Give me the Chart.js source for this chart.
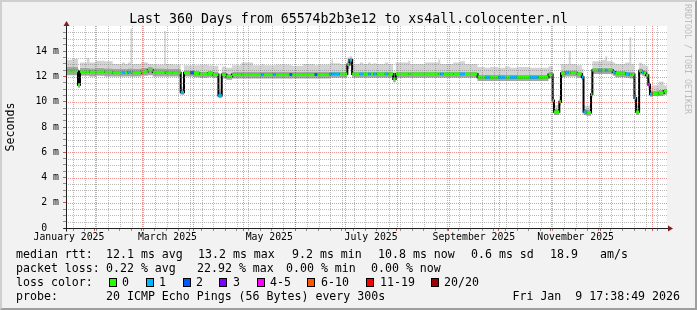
<!DOCTYPE html>
<html>
<head>
<meta charset="utf-8">
<script src="https://cdn.jsdelivr.net/npm/chart.js@4.4.1/dist/chart.umd.min.js"></script>
<style>
  html, body { margin: 0; padding: 0; background: #f2f2f2; }
  #wrap { position: relative; width: 697px; height: 310px; overflow: hidden;
          font-family: "DejaVu Sans Mono", monospace; color: #000; }
  #wrap canvas { position: absolute; left: 0; top: 0; }
  .frame { position: absolute; left: 0; top: 0; width: 697px; height: 310px; box-sizing: border-box;
           border-top: 2px solid #cfcfcf; border-left: 2px solid #cfcfcf;
           border-right: 2px solid #9e9e9e; border-bottom: 2px solid #9e9e9e; pointer-events: none; }
  .title { position: absolute; left: 0; top: 11px; width: 697px; text-align: center;
           font-size: 13.25px; line-height: 16px; white-space: pre; }
  .t { position: absolute; white-space: pre; font-size: 11.6px; line-height: 14px; }
  .box { position: absolute; width: 8px; height: 9px; box-sizing: border-box; border: 1px solid #000; }
  .mark { position: absolute; left: 683px; top: 4px; writing-mode: vertical-rl; font-size: 8.3px;
          line-height: 10px; color: #bdbdbd; white-space: pre; }
</style>
</head>
<body>
<div id="wrap">
  <canvas id="chart" width="697" height="310"></canvas>
  <div class="title">Last 360 Days from 65574b2b3e12 to xs4all.colocenter.nl</div>
  <div class="mark">RRDTOOL / TOBI OETIKER</div>
  <div id="legend"></div>
  <div class="frame"></div>
</div>
<script>
// breakpoints: day since start of graph (Jan 14 2025 17:38), value holds until next day
const days = [0, 3.5, 7.2, 8.4, 12.5, 14, 18, 23, 28, 33.5,
  35.3, 37, 38.6, 39.6, 45, 49, 52, 58.8, 59.8, 64,
  68.7, 70.7, 74.5, 76.5, 80, 85, 88, 91.3, 93.3, 96,
  99.5, 105, 112, 117, 118.5, 124.3, 125.5, 134, 135.5, 142,
  149, 150.5, 158, 159, 160, 164, 168.5, 169.8, 171.4, 176,
  178, 181, 182.5, 184, 186, 191, 193, 196, 197.5, 205,
  206.2, 215, 223, 224.2, 226, 232, 236, 239, 246.5, 251,
  254, 259, 263, 266, 270, 278, 283, 289, 291.5, 292.3,
  295.5, 296.5, 299, 301.2, 302.3, 306, 309, 310, 311.7, 314.5,
  315.3, 319, 321, 323, 324.2, 327.5, 329, 335, 337.5, 338.6,
  340.5, 341.5, 343.3, 345, 346, 347.5, 348.8, 349.8, 351.3, 355,
  358];
const endDay = 360;

// median rtt in ms
const median = [12.45, 12.45, 11.35, 12.4, 12.4, 12.35, 12.4, 12.35, 12.3, 12.3,
  12.3, 12.35, 12.35, 12.3, 12.4, 12.5, 12.35, 12.35, 12.3, 12.3,
  10.75, 12.3, 12.3, 12.25, 12.2, 12.25, 12.15, 10.5, 12.15, 12.0,
  12.15, 12.15, 12.15, 12.15, 12.15, 12.15, 12.15, 12.15, 12.15, 12.15,
  12.15, 12.15, 12.2, 12.2, 12.2, 12.2, 12.95, 13.3, 12.2, 12.2,
  12.2, 12.2, 12.2, 12.2, 12.2, 12.2, 12.2, 11.8, 12.2, 12.2,
  12.2, 12.2, 12.2, 12.2, 12.2, 12.2, 12.2, 12.2, 11.95, 11.95,
  11.95, 11.95, 11.95, 11.95, 11.95, 11.95, 11.95, 12.15, 10.1, 9.2,
  10.0, 12.25, 12.3, 12.3, 12.3, 12.2, 11.95, 9.2, 9.15, 10.6,
  12.5, 12.5, 12.5, 12.5, 12.5, 12.35, 12.25, 12.2, 12.15, 12.15,
  10.3, 9.2, 12.45, 12.35, 12.3, 12.1, 11.35, 10.6, 10.65, 10.7,
  10.85];

// lost pings out of 20 -> index into lossColors
const loss = [0, 0, 0, 0, 0, 0, 0, 0, 0, 1,
  0, 1, 0, 0, 0, 0, 0, 0, 0, 0,
  1, 0, 2, 0, 0, 0, 0, 1, 0, 0,
  0, 0, 0, 1, 0, 1, 0, 2, 0, 0,
  2, 0, 1, 1, 1, 0, 0, 1, 0, 1,
  0, 1, 0, 1, 0, 1, 0, 0, 0, 0,
  0, 0, 0, 1, 0, 0, 1, 0, 0, 1,
  0, 1, 0, 1, 0, 1, 0, 0, 0, 0,
  0, 0, 1, 0, 0, 0, 1, 1, 0, 0,
  0, 1, 0, 1, 0, 1, 0, 1, 0, 0,
  1, 0, 0, 1, 0, 0, 4, 1, 0, 0,
  0];

// smoke: bottom, top of dense band, top of light band
const smokeLo = [12.1, 12.1, 11.1, 12.05, 12.05, 12.0, 12.05, 12.0, 12.0, 12.0,
  12.0, 12.0, 12.0, 12.0, 12.05, 12.1, 12.0, 12.0, 12.0, 12.0,
  10.55, 12.0, 12.0, 11.95, 11.9, 11.95, 11.9, 10.3, 11.85, 11.75,
  11.85, 11.85, 11.85, 11.85, 11.85, 11.85, 11.85, 11.85, 11.85, 11.85,
  11.85, 11.85, 11.9, 11.9, 11.9, 11.9, 12.6, 12.9, 11.9, 11.9,
  11.9, 11.9, 11.9, 11.9, 11.9, 11.9, 11.9, 11.55, 11.9, 11.9,
  11.9, 11.9, 11.9, 11.9, 11.9, 11.9, 11.9, 11.9, 11.65, 11.65,
  11.65, 11.65, 11.65, 11.65, 11.65, 11.65, 11.65, 11.85, 9.8, 8.95,
  9.7, 11.95, 12.0, 12.0, 12.0, 11.9, 11.7, 8.95, 8.9, 10.3,
  12.2, 12.2, 12.2, 12.2, 12.2, 12.05, 11.95, 11.9, 11.85, 11.85,
  10.0, 8.95, 12.15, 12.05, 12.0, 11.8, 11.05, 10.4, 10.45, 10.45,
  10.55];
const smokeMid = [12.75, 12.75, 11.6, 12.7, 12.7, 12.65, 12.7, 12.65, 12.6, 12.6,
  12.6, 12.65, 12.65, 12.6, 12.7, 12.8, 12.65, 12.65, 12.6, 12.6,
  11.0, 12.5, 12.5, 12.45, 12.4, 12.45, 12.35, 10.75, 12.35, 12.2,
  12.35, 12.35, 12.35, 12.35, 12.35, 12.35, 12.35, 12.35, 12.35, 12.35,
  12.35, 12.35, 12.4, 12.4, 12.4, 12.4, 13.2, 13.5, 12.4, 12.4,
  12.4, 12.4, 12.4, 12.4, 12.4, 12.4, 12.4, 12.0, 12.4, 12.4,
  12.4, 12.4, 12.4, 12.4, 12.4, 12.4, 12.4, 12.4, 12.15, 12.15,
  12.15, 12.15, 12.15, 12.15, 12.15, 12.15, 12.15, 12.35, 10.35, 9.45,
  10.25, 12.45, 12.5, 12.5, 12.5, 12.4, 12.15, 9.45, 9.4, 10.85,
  12.7, 12.7, 12.7, 12.7, 12.7, 12.55, 12.45, 12.4, 12.35, 12.35,
  10.55, 9.45, 12.65, 12.55, 12.5, 12.3, 11.6, 10.85, 10.9, 10.95,
  11.05];
const smokeHi = [13.3, 13.4, 11.8, 13.1, 13.45, 13.1, 13.25, 13.2, 13.0, 13.1,
  13.0, 13.1, 15.8, 13.0, 13.1, 13.0, 12.95, 15.6, 13.0, 12.95,
  11.2, 12.9, 12.9, 12.9, 12.95, 12.9, 12.85, 11.0, 12.8, 12.7,
  12.9, 13.1, 12.9, 13.0, 12.9, 12.9, 12.95, 12.9, 12.85, 13.0,
  12.9, 12.95, 13.05, 13.35, 13.05, 13.0, 13.5, 13.6, 13.0, 13.1,
  13.0, 13.1, 13.0, 13.05, 13.0, 13.1, 13.0, 12.4, 13.1, 13.25,
  13.0, 13.1, 13.35, 13.0, 13.0, 13.1, 13.2, 13.0, 12.75, 12.7,
  12.75, 12.7, 12.8, 12.7, 12.75, 12.7, 12.7, 12.8, 10.6, 9.75,
  10.5, 13.0, 13.0, 14.0, 13.0, 12.9, 12.6, 9.7, 9.7, 11.1,
  13.2, 13.2, 13.3, 13.6, 13.2, 13.1, 13.0, 13.1, 15.1, 13.0,
  10.8, 9.7, 13.1, 13.0, 12.9, 12.8, 11.75, 11.2, 11.3, 11.6,
  11.3];

const lossColors = ['#26ff00', '#00b8ff', '#0059ff', '#7e00ff', '#ff00ff', '#ff5500', '#ff0000', '#a10000'];
const lossLabels = ['0', '1', '2', '3', '4-5', '6-10', '11-19', '20/20'];

// x axis: label months (mid-month labels) and y tick labels
const monthLabels = ['January 2025', 'March 2025', 'May 2025', 'July 2025', 'September 2025', 'November 2025'];
const labelMonths = [0, 2, 4, 6, 8, 10];
const yTickValues = [0, 2, 4, 6, 8, 10, 12, 14];
const yTickLabels = ['0  ', '2 m', '4 m', '6 m', '8 m', '10 m', '12 m', '14 m'];

const startMs = Date.UTC(2025, 0, 14, 17, 38, 49);
const toDay = (y, m, d) => (Date.UTC(y, m, d) - startMs) / 86400000;

const FONT = '"DejaVu Sans Mono", monospace';
const MINOR = 'rgba(130,130,130,0.55)';
const MAJOR = 'rgba(220,60,60,0.55)';

// legend text below the graph
const legendRows = [
  [247, [['median rtt:', 16], ['12.1 ms avg', 106], ['13.2 ms max', 198], ['9.2 ms min', 292],
         ['10.8 ms now', 378], ['0.6 ms sd', 471], ['18.9', 550], ['am/s', 600]]],
  [261, [['packet loss:', 16], ['0.22 % avg', 106], ['22.92 % max', 197], ['0.00 % min', 286], ['0.00 % now', 371]]],
  [275, [['loss color:', 16]]],
  [289, [['probe:', 16], ['20 ICMP Echo Pings (56 Bytes) every 300s', 106]]]
];
const boxX = [109, 146, 183, 219, 257, 307, 366, 431];
const boxLabelX = [122, 159, 196, 233, 270, 321, 380, 444];

const legend = document.getElementById('legend');
legendRows.forEach(([top, items]) => {
  items.forEach(([txt, left]) => {
    const s = document.createElement('div');
    s.className = 't';
    s.style.top = top + 'px';
    s.style.left = left + 'px';
    s.textContent = txt;
    legend.appendChild(s);
  });
});
lossLabels.forEach((lab, i) => {
  const b = document.createElement('div');
  b.className = 'box';
  b.style.left = boxX[i] + 'px';
  b.style.top = '278px';
  b.style.background = lossColors[i];
  legend.appendChild(b);
  const s = document.createElement('div');
  s.className = 't';
  s.style.top = '275px';
  s.style.left = boxLabelX[i] + 'px';
  s.textContent = lab;
  legend.appendChild(s);
});
const stamp = document.createElement('div');
stamp.className = 't';
stamp.style.top = '289px';
stamp.style.right = '17px';
stamp.textContent = 'Fri Jan  9 17:38:49 2026';
legend.appendChild(stamp);

// datasets built from the arrays
const steps = arr => days.map((d, i) => ({x: d, y: arr[i]})).concat([{x: endDay, y: arr[arr.length - 1]}]);

const lossBars = [];
days.forEach((d, i) => {
  const next = i + 1 < days.length ? days[i + 1] : endDay;
  lossBars.push({x: d, y: median[i], l: loss[i]}, {x: next, y: median[i], l: loss[i]}, {x: next, y: null});
});

const xTicks = [];
for (let d = toDay(2025, 0, 19); d <= endDay; d += 7) xTicks.push({value: d, kind: 'minor'});
for (let m = 1; m <= 12; m++) xTicks.push({value: toDay(2025, m, 1), kind: 'major'});
labelMonths.forEach((m, i) => {
  xTicks.push({value: (toDay(2025, m, 1) + toDay(2025, m + 1, 1)) / 2, kind: 'label', text: monthLabels[i]});
});
xTicks.sort((a, b) => a.value - b.value);

const yTicks = [];
for (let v = 0; v <= 16; v += 0.5) {
  const i = yTickValues.indexOf(v);
  yTicks.push({value: v, kind: v === 16 ? 'none' : (v % 2 === 0 ? 'major' : 'minor'), text: i >= 0 ? yTickLabels[i] : ''});
}

const tickColor = ctx => {
  const k = ctx.tick && ctx.tick.kind;
  return k === 'major' ? '#de4f4f' : (k === 'minor' ? '#8f8f8f' : 'rgba(0,0,0,0)');
};

// white canvas, dotted grid over the data (as rrdtool does), axis arrows
const frame = {
  id: 'frame',
  beforeDraw(chart) {
    const {ctx, chartArea: a} = chart;
    ctx.save();
    ctx.fillStyle = '#ffffff';
    ctx.fillRect(a.left, a.top, a.right - a.left, a.bottom - a.top);
    ctx.restore();
  },
  afterDatasetsDraw(chart) {
    const {ctx, chartArea: a, scales} = chart;
    ctx.save();
    ctx.lineWidth = 1;
    ctx.setLineDash([1, 1]);
    ['minor', 'major'].forEach(kind => {
      ctx.strokeStyle = kind === 'major' ? MAJOR : MINOR;
      scales.x.ticks.forEach(t => {
        if (t.kind !== kind) return;
        const px = Math.round(scales.x.getPixelForValue(t.value)) + 0.5;
        ctx.beginPath(); ctx.moveTo(px, a.top); ctx.lineTo(px, a.bottom); ctx.stroke();
      });
      scales.y.ticks.forEach(t => {
        if (t.kind !== kind || t.value === 0) return;
        const py = Math.round(scales.y.getPixelForValue(t.value)) + 0.5;
        ctx.beginPath(); ctx.moveTo(a.left, py); ctx.lineTo(a.right, py); ctx.stroke();
      });
    });
    ctx.restore();
  },
  afterDraw(chart) {
    const {ctx, chartArea: a} = chart;
    const l = Math.round(a.left) + 0.5, b = Math.round(a.bottom) + 0.5;
    ctx.save();
    ctx.strokeStyle = '#1f1f1f';
    ctx.lineWidth = 1;
    ctx.beginPath();
    ctx.moveTo(l - 3, b); ctx.lineTo(a.right + 2, b);
    ctx.moveTo(l, b + 3); ctx.lineTo(l, a.top - 1);
    ctx.stroke();
    ctx.fillStyle = '#801f1f';
    ctx.beginPath();
    ctx.moveTo(l, a.top - 5); ctx.lineTo(l - 3, a.top); ctx.lineTo(l + 3, a.top); ctx.closePath();
    ctx.fill();
    ctx.beginPath();
    ctx.moveTo(a.right + 6, b); ctx.lineTo(a.right + 1, b - 3); ctx.lineTo(a.right + 1, b + 3); ctx.closePath();
    ctx.fill();
    ctx.restore();
  }
};

const flat = {pointRadius: 0, pointHoverRadius: 0, stepped: 'before', borderWidth: 0, borderColor: 'rgba(0,0,0,0)'};

new Chart(document.getElementById('chart'), {
  type: 'line',
  data: {
    datasets: [
      Object.assign({label: 'smoke low', data: steps(smokeLo), fill: false, order: 5}, flat),
      Object.assign({label: 'smoke dense', data: steps(smokeMid), fill: '-1', backgroundColor: '#a6a6a6', order: 4}, flat),
      Object.assign({label: 'smoke light', data: steps(smokeHi), fill: '-1', backgroundColor: '#d3d3d3', order: 3}, flat),
      {
        label: 'median', data: steps(median), stepped: 'before', borderColor: '#000000', borderWidth: 2,
        pointRadius: 0, fill: false, order: 2
      },
      {
        label: 'loss', data: lossBars, borderWidth: 3, borderCapStyle: 'butt', pointRadius: 0, fill: false,
        spanGaps: false, order: 1, borderColor: lossColors[0],
        segment: {borderColor: ctx => lossColors[lossBars[ctx.p0DataIndex].l]}
      }
    ]
  },
  options: {
    responsive: false,
    animation: false,
    devicePixelRatio: 1,
    events: [],
    layout: {padding: {left: 0, top: 26, right: 30, bottom: 62}},
    plugins: {legend: {display: false}, tooltip: {enabled: false}, title: {display: false}},
    scales: {
      x: {
        type: 'linear', min: 0, max: endDay,
        afterBuildTicks: s => { s.ticks = xTicks.map(t => Object.assign({}, t)); },
        afterFit: s => { s.height = 20; },
        grid: {drawOnChartArea: false, tickColor: tickColor, tickLength: 3, drawTicks: true},
        border: {display: true, color: '#1f1f1f'},
        ticks: {
          autoSkip: false, maxRotation: 0, padding: 1, color: '#000',
          font: {family: FONT, size: 9.8},
          callback: (v, i, ticks) => ticks[i].text || ''
        }
      },
      y: {
        type: 'linear', min: 0, max: 16,
        afterBuildTicks: s => { s.ticks = yTicks.map(t => Object.assign({}, t)); },
        afterFit: s => { s.width = 66; },
        grid: {drawOnChartArea: false, tickColor: tickColor, tickLength: 3, drawTicks: true},
        border: {display: true, color: '#1f1f1f'},
        ticks: {
          autoSkip: false, padding: 4, color: '#000',
          font: {family: FONT, size: 9.8},
          callback: (v, i, ticks) => ticks[i].text || ''
        },
        title: {display: true, text: 'Seconds', color: '#000', font: {family: FONT, size: 11.6}, padding: {top: 4, bottom: 0}}
      }
    }
  },
  plugins: [frame]
});
</script>
</body>
</html>
